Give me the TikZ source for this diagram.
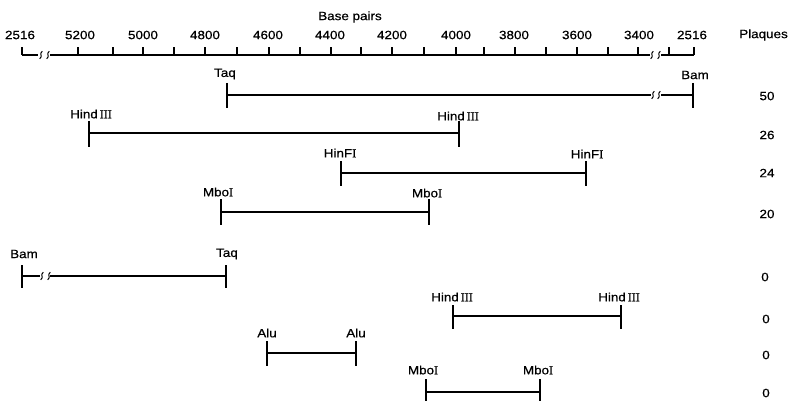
\documentclass[tikz,border=0pt]{standalone}
\usepackage{fontspec}
\setmainfont[FakeStretch=1.12,FakeBold=0.6]{Liberation Sans}
\newfontfamily\romfont[FakeBold=1.2]{Liberation Serif}
\newcommand{\RomNum}[1]{{\romfont #1}}
\begin{document}
\begin{tikzpicture}[x=1pt,y=-1pt,
  lbl/.style={inner sep=0pt,font=\fontsize{12}{13}\selectfont},
  frag/.style={line width=2.7pt},
  thinfrag/.style={line width=1.2pt},
  endtick/.style={line width=1.7pt},
  ruler/.style={line width=1.1pt},
  rtick/.style={line width=1.1pt},
  brk/.style={line width=1pt}]
\useasboundingbox (0,0) rectangle (789,401);
% squiggle macro
\newcommand{\Squig}[2]{\draw[brk] (#1-1.3,#2+3.8) .. controls (#1+2.4,#2+1) and (#1-2.4,#2-1) .. (#1+1.3,#2-3.8);}
% ---- ruler ----
\node[lbl] (bp) at (350,17) {Base pairs};
\node[lbl,anchor=east] (plq) at (788,35) {Plaques};
\coordinate (rL) at (22,55);
\coordinate (rLb) at (38,55);
\coordinate (rLc) at (50,55);
\coordinate (rRb) at (650,55);
\coordinate (rRc) at (661,55);
\coordinate (rR) at (694,55);
\draw[ruler] (rL) -- (rLb);
\draw[ruler] (rLc) -- (rRb);
\draw[ruler] (rRc) -- (rR);
\Squig{41}{55}\Squig{48}{55}
\Squig{652}{55}\Squig{659}{55}
\foreach \t in {22,78,113,143,174,205,237,269,300,331,361,392,424,456,484,515,546,577,608,638,669,694}
  \draw[rtick] (\t,55) -- (\t,47);
\foreach \v/\t in {2516/20,5200/80,5000/143,4800/205,4600/268,4400/330,4200/392,4000/456,3800/514,3600/577,3400/639}
  \node[lbl] (n\v) at (\t,35) {\v};
\node[lbl] (nR2516) at (692,35) {2516};
% ---- fragments ----
% row 1 Taq - Bam
\coordinate (a1) at (227,95); \coordinate (a1b) at (651,95);
\coordinate (a1c) at (661,95); \coordinate (b1) at (693,95);
\draw[frag] (a1) -- (a1b); \draw[frag] (a1c) -- (b1);
\Squig{653}{95}\Squig{659}{95}
\draw[endtick] (227,83) -- (227,108); \draw[endtick] (693,83) -- (693,108);
\node[lbl] (t1a) at (225,74) {Taq};
\node[lbl] (t1b) at (695,75) {Bam};
\node[lbl] (p1) at (767,96) {50};
% row 2 HindIII
\coordinate (a2) at (89,133); \coordinate (b2) at (459,133);
\draw[frag] (a2) -- (b2);
\draw[endtick] (89,121) -- (89,147); \draw[endtick] (459,121) -- (459,147);
\node[lbl] (t2a) at (91,114) {Hind\,\RomNum{III}};
\node[lbl] (t2b) at (458,116) {Hind\,\RomNum{III}};
\node[lbl] (p2) at (767,135) {26};
% row 3 HinFI
\coordinate (a3) at (341,173); \coordinate (b3) at (586,173);
\draw[frag] (a3) -- (b3);
\draw[endtick] (341,161) -- (341,186); \draw[endtick] (586,161) -- (586,186);
\node[lbl] (t3a) at (340,153) {HinF\RomNum{I}};
\node[lbl] (t3b) at (587,154) {HinF\RomNum{I}};
\node[lbl] (p3) at (767,173) {24};
% row 4 MboI
\coordinate (a4) at (221,212); \coordinate (b4) at (429,212);
\draw[frag] (a4) -- (b4);
\draw[endtick] (221,199) -- (221,225); \draw[endtick] (429,199) -- (429,225);
\node[lbl] (t4a) at (218,192) {Mbo\RomNum{I}};
\node[lbl] (t4b) at (427,193) {Mbo\RomNum{I}};
\node[lbl] (p4) at (767,214) {20};
% row 5 Bam - Taq
\coordinate (a5) at (22,276); \coordinate (a5b) at (40,276);
\coordinate (a5c) at (50,276); \coordinate (b5) at (226,276);
\draw[thinfrag] (a5) -- (a5b); \draw[frag] (a5c) -- (b5);
\Squig{42}{276}\Squig{49}{276}
\draw[endtick] (22,265) -- (22,288); \draw[endtick] (226,265) -- (226,288);
\node[lbl] (t5a) at (24,254) {Bam};
\node[lbl] (t5b) at (227,254) {Taq};
\node[lbl] (p5) at (765,277) {0};
% row 6 HindIII
\coordinate (a6) at (453,316); \coordinate (b6) at (621,316);
\draw[frag] (a6) -- (b6);
\draw[endtick] (453,305) -- (453,329); \draw[endtick] (621,305) -- (621,329);
\node[lbl] (t6a) at (452,297) {Hind\,\RomNum{III}};
\node[lbl] (t6b) at (619,297) {Hind\,\RomNum{III}};
\node[lbl] (p6) at (766,319) {0};
% row 7 Alu
\coordinate (a7) at (267,353); \coordinate (b7) at (356,353);
\draw[frag] (a7) -- (b7);
\draw[endtick] (267,341) -- (267,366); \draw[endtick] (356,341) -- (356,366);
\node[lbl] (t7a) at (267,333) {Alu};
\node[lbl] (t7b) at (356,333) {Alu};
\node[lbl] (p7) at (766,355) {0};
% row 8 MboI
\coordinate (a8) at (426,392); \coordinate (b8) at (540,392);
\draw[frag] (a8) -- (b8);
\draw[endtick] (426,379) -- (426,401); \draw[endtick] (540,379) -- (540,401);
\node[lbl] (t8a) at (423,370) {Mbo\RomNum{I}};
\node[lbl] (t8b) at (538,370) {Mbo\RomNum{I}};
\node[lbl] (p8) at (766,393) {0};
\end{tikzpicture}
\end{document}
